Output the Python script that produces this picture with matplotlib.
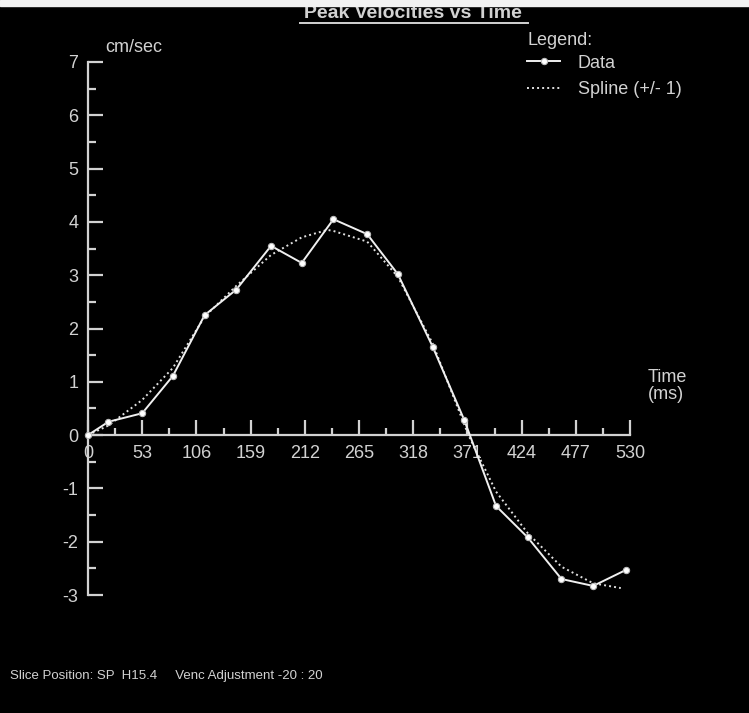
import matplotlib
matplotlib.use("Agg")
import matplotlib.pyplot as plt
from matplotlib.patches import Rectangle

# peak velocity samples (ms, cm/sec)
time_ms = [0, 20, 53, 83, 114, 145, 179, 209, 240, 273, 303, 337, 368, 399, 430, 463, 494, 526]
velocity = [0, 0.25, 0.41, 1.11, 2.25, 2.73, 3.55, 3.23, 4.05, 3.77, 3.02, 1.66, 0.28,
            -1.33, -1.92, -2.70, -2.83, -2.53]

# spline fit
spline_t = [0, 20, 53, 83, 114, 145, 179, 209, 234, 240, 273, 303, 337, 372, 399, 430, 463, 494, 521]
spline_v = [0, 0.18, 0.66, 1.26, 2.22, 2.8, 3.38, 3.71, 3.85, 3.83, 3.63, 2.97, 1.72, 0.0,
            -1.06, -1.84, -2.47, -2.78, -2.87]

xticks = [0, 53, 106, 159, 212, 265, 318, 371, 424, 477, 530]
yticks = [-3, -2, -1, 0, 1, 2, 3, 4, 5, 6, 7]

fg = "#d2d2d2"
font = ["Liberation Sans Narrow", "Liberation Sans", "DejaVu Sans"]
plt.rcParams["font.family"] = font

fig = plt.figure(figsize=(7.49, 7.13), dpi=100, facecolor="black")
ax = fig.add_axes([0, 0, 1, 1], facecolor="black")

# pixel mapping: x=0 -> 88px, x=530 -> 630px ; y=7 -> 62px, y=-3 -> 595px
px_x = 542 / 530
px_y = 533 / 10
ax.set_xlim(-88 / px_x, 530 + (749 - 630) / px_x)
ax.set_ylim(-3 - (713 - 595) / px_y, 7 + 62 / px_y)

for s in ["top", "right"]:
    ax.spines[s].set_visible(False)
ax.spines["left"].set_position(("data", 0))
ax.spines["bottom"].set_position(("data", 0))
ax.spines["left"].set_bounds(-3, 7)
ax.spines["bottom"].set_bounds(0, 530)
for s in ["left", "bottom"]:
    ax.spines[s].set_color(fg)
    ax.spines[s].set_linewidth(1.6)

ax.set_xticks(xticks)
ax.set_xticklabels([str(t) for t in xticks])
ax.set_xticks([t + 26.5 for t in xticks[:-1]], minor=True)
ax.set_yticks(yticks)
ax.set_yticklabels([str(t) for t in yticks])
ax.set_yticks([t + 0.5 for t in yticks[:-1]], minor=True)
ax.tick_params(which="both", direction="in", color=fg, width=1.6, labelcolor=fg, labelsize=13)
ax.tick_params(axis="y", which="major", length=11, pad=7)
ax.tick_params(axis="y", which="minor", length=6)
ax.tick_params(axis="x", which="major", length=11, pad=7)
ax.tick_params(axis="x", which="minor", length=5)

data_line, = ax.plot(time_ms, velocity, color="#f0f0f0", lw=1.4, marker="o", ms=4.5,
                     mfc="white", mec="#bbbbbb", mew=0.8, zorder=3)
spline_line, = ax.plot(spline_t, spline_v, color="#e0e0e0", lw=1.4, ls=(0, (1, 1.6)), zorder=2)

# axis captions
fig.text(105 / 749, 1 - 48 / 713, "cm/sec", color=fg, fontsize=13, va="center", ha="left")
fig.text(648 / 749, 1 - 386 / 713, "Time\n(ms)", color=fg, fontsize=13, va="center",
         ha="left", linespacing=1.05)

title = fig.text(413 / 749, 1 - 13 / 713, "Peak Velocities vs Time", color=fg, fontsize=14,
                 fontweight="bold", va="center", ha="center")
fig.add_artist(plt.Line2D([300 / 749, 528 / 749], [1 - 23 / 713, 1 - 23 / 713],
                          color=fg, lw=1.4))

leg = ax.legend([data_line, spline_line], ["Data", "Spline (+/- 1)"], title="Legend:",
                loc="upper left", bbox_to_anchor=(511 / 749, 1 - 16 / 713),
                bbox_transform=fig.transFigure, frameon=False, fontsize=13,
                title_fontsize=13, handlelength=1.8, handletextpad=1.0,
                labelspacing=0.5, alignment="left", labelcolor=fg)
leg.get_title().set_color(fg)
leg._legend_box.sep = 4

fig.text(10 / 749, 1 - 676 / 713, "Slice Position: SP  H15.4     Venc Adjustment -20 : 20",
         color=fg, fontsize=9.5, va="center", ha="left")

# light strip along the top edge
fig.add_artist(Rectangle((0, 1 - 6 / 713), 1, 6 / 713, transform=fig.transFigure,
                         color="#f2f2f2", zorder=10))

fig.savefig("out.png", dpi=100, facecolor="black")
